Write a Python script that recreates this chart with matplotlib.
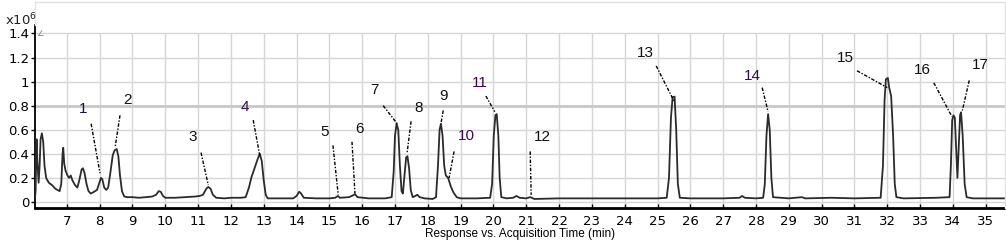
import matplotlib.pyplot as plt
from matplotlib.lines import Line2D

# chromatogram trace (time in min, response in x10^6)
time = [6.03, 6.05, 6.07, 6.08, 6.10, 6.14, 6.17, 6.20, 6.24, 6.28, 6.32, 6.37, 6.45, 6.55, 6.65, 6.78,
        6.83, 6.87, 6.89, 6.92, 6.96, 7.02, 7.07, 7.12, 7.17, 7.25, 7.32, 7.38, 7.45, 7.49, 7.54, 7.60,
        7.66, 7.73, 7.80, 7.92, 7.98, 8.04, 8.08, 8.14, 8.20, 8.26, 8.33, 8.40, 8.46, 8.52, 8.57, 8.62,
        8.68, 8.75, 8.85, 9.0, 9.2, 9.4, 9.6, 9.72, 9.80, 9.86, 9.93, 10.0, 10.3, 10.6, 10.9, 11.05,
        11.15, 11.25, 11.31, 11.38, 11.45, 11.55, 11.8, 12.0, 12.3, 12.45, 12.55, 12.62, 12.72, 12.82,
        12.88, 12.94, 13.0, 13.06, 13.12, 13.5, 13.9, 14.0, 14.08, 14.14, 14.22, 14.6, 15.0, 15.18,
        15.26, 15.32, 15.6, 15.72, 15.78, 15.86, 16.2, 16.7, 16.9, 16.96, 17.0, 17.05, 17.1, 17.15,
        17.2, 17.24, 17.29, 17.34, 17.38, 17.43, 17.48, 17.54, 17.62, 17.68, 17.75, 17.9, 18.15, 18.25,
        18.31, 18.36, 18.40, 18.45, 18.50, 18.55, 18.62, 18.70, 18.78, 18.88, 19.0, 19.5, 19.9, 19.96,
        20.01, 20.06, 20.10, 20.15, 20.19, 20.24, 20.4, 20.6, 20.7, 20.8, 21.0, 21.12, 21.25, 22.0,
        23.0, 24.0, 25.0, 25.28, 25.35, 25.41, 25.46, 25.52, 25.57, 25.62, 25.68, 26.0, 27.0, 27.5,
        27.58, 27.66, 28.0, 28.22, 28.27, 28.32, 28.37, 28.42, 28.47, 28.52, 29.0, 29.4, 29.5, 30.3,
        31.0, 31.8, 31.87, 31.92, 31.96, 32.02, 32.06, 32.12, 32.18, 32.23, 32.28, 32.5, 33.5, 33.9,
        33.94, 33.98, 34.02, 34.06, 34.10, 34.14, 34.18, 34.22, 34.25, 34.30, 34.36, 34.42, 34.6,
        35.0, 35.6]
response = [0.03, 0.10, 0.45, 0.52, 0.35, 0.16, 0.30, 0.52, 0.57, 0.50, 0.30, 0.20, 0.16, 0.14, 0.11, 0.09,
            0.15, 0.40, 0.45, 0.32, 0.26, 0.22, 0.20, 0.22, 0.18, 0.14, 0.12, 0.18, 0.27, 0.28, 0.24, 0.15,
            0.09, 0.07, 0.08, 0.10, 0.15, 0.20, 0.19, 0.12, 0.10, 0.12, 0.25, 0.39, 0.43, 0.44, 0.38, 0.22,
            0.09, 0.045, 0.04, 0.04, 0.035, 0.04, 0.045, 0.06, 0.09, 0.085, 0.05, 0.035, 0.035, 0.04, 0.045, 0.05,
            0.06, 0.11, 0.125, 0.11, 0.06, 0.035, 0.03, 0.035, 0.035, 0.04, 0.12, 0.20, 0.28, 0.36,
            0.40, 0.34, 0.18, 0.06, 0.03, 0.03, 0.03, 0.05, 0.085, 0.07, 0.035, 0.03, 0.03, 0.035,
            0.05, 0.035, 0.04, 0.055, 0.065, 0.04, 0.03, 0.03, 0.04, 0.25, 0.55, 0.65, 0.60, 0.30,
            0.09, 0.07, 0.22, 0.37, 0.38, 0.28, 0.10, 0.04, 0.05, 0.06, 0.04, 0.03, 0.025, 0.04,
            0.30, 0.60, 0.65, 0.55, 0.30, 0.22, 0.20, 0.13, 0.08, 0.04, 0.03, 0.03, 0.035, 0.15,
            0.55, 0.72, 0.73, 0.55, 0.20, 0.04, 0.03, 0.035, 0.05, 0.035, 0.03, 0.04, 0.025, 0.03,
            0.03, 0.03, 0.03, 0.035, 0.20, 0.70, 0.87, 0.875, 0.60, 0.15, 0.035, 0.03, 0.03, 0.035,
            0.05, 0.035, 0.03, 0.035, 0.15, 0.55, 0.73, 0.60, 0.20, 0.04, 0.03, 0.04, 0.03, 0.035,
            0.03, 0.035, 0.30, 0.85, 1.02, 1.03, 0.95, 0.88, 0.55, 0.15, 0.04, 0.03, 0.035, 0.04,
            0.30, 0.68, 0.72, 0.70, 0.45, 0.20, 0.45, 0.72, 0.745, 0.55, 0.15, 0.04, 0.03,
            0.03, 0.03]

# peak labels and their leader lines
peak_labels = ['1', '2', '3', '4', '5', '6', '7', '8', '9', '10', '11', '12', '13', '14', '15', '16', '17']
label_x = [7.50, 8.84, 10.85, 12.43, 14.84, 15.91, 16.37, 17.71, 18.47, 19.17, 19.59, 21.48, 24.62, 27.88, 30.72, 33.06, 34.83]
label_y = [0.77, 0.85, 0.54, 0.79, 0.58, 0.61, 0.93, 0.78, 0.88, 0.55, 0.99, 0.54, 1.24, 1.05, 1.20, 1.10, 1.14]
lead_x = [7.74, 8.62, 11.09, 12.68, 15.11, 15.69, 16.64, 17.49, 18.47, 18.80, 19.77, 21.12, 24.96, 28.19, 31.08, 33.42, 34.50]
lead_y = [0.65, 0.72, 0.41, 0.68, 0.47, 0.50, 0.80, 0.67, 0.76, 0.42, 0.88, 0.42, 1.13, 0.95, 1.09, 0.99, 1.01]
peak_x = [8.01, 8.47, 11.31, 12.89, 15.27, 15.78, 17.07, 17.37, 18.40, 18.65, 20.04, 21.15, 25.50, 28.37, 32.00, 33.97, 34.29]
peak_y = [0.24, 0.45, 0.14, 0.37, 0.06, 0.07, 0.65, 0.41, 0.65, 0.20, 0.75, 0.06, 0.84, 0.75, 0.95, 0.71, 0.76]
label_colors = ['#1a1040', '#111111', '#111111', '#3a0a55', '#111111', '#111111', '#111111', '#111111', '#111111',
                '#3a0a55', '#3a0a55', '#111111', '#111111', '#3a0a55', '#111111', '#111111', '#111111']

x_ticks = list(range(7, 36))
y_ticks = [0, 0.2, 0.4, 0.6, 0.8, 1.0, 1.2, 1.4]
y_ticklabels = ['0', '0.2', '0.4', '0.6', '0.8', '1', '1.2', '1.4']


def main():
    fig = plt.figure(figsize=(10.06, 2.48), dpi=100)
    ax = fig.add_axes([35 / 1006, 40 / 248, 971 / 1006, 183 / 248])
    ax.set_xlim(6.03, 35.62)
    ax.set_ylim(-0.05, 1.47)

    # light frame above the plot area (top and left edges only)
    fig.add_artist(Line2D([35 / 1006, 1005 / 1006, 1005 / 1006], [246 / 248, 246 / 248, 40 / 248],
                          transform=fig.transFigure, color='#e2e2e2', lw=1))
    fig.add_artist(Line2D([35 / 1006, 35 / 1006], [223 / 248, 246 / 248],
                          transform=fig.transFigure, color='#e2e2e2', lw=1))

    # grid lines stop at the 1.4 line
    ax.vlines(x_ticks, -0.05, 1.4, color='#d6d6d6', lw=1, zorder=0)
    for yv in y_ticks:
        ax.axhline(yv, color='#c8c8c8' if yv == 0.8 else '#d6d6d6', lw=2 if yv == 0.8 else 1, zorder=0)

    ax.plot(time, response, color='#2b2b2b', lw=1.3, zorder=3)

    for i in range(len(peak_labels)):
        ax.plot([lead_x[i], peak_x[i]], [lead_y[i], peak_y[i]], color='black', lw=1,
                linestyle=(0, (2.5, 1.2, 1, 1.2)), zorder=4)
        ax.text(label_x[i], label_y[i], peak_labels[i], ha='center', va='center', fontsize=11,
                color=label_colors[i], family='Liberation Sans')

    for s in ['top', 'right']:
        ax.spines[s].set_visible(False)
    ax.spines['left'].set_linewidth(1.3)
    ax.spines['bottom'].set_linewidth(2)
    ax.set_xticks(x_ticks)
    ax.set_yticks(y_ticks)
    ax.set_yticklabels(y_ticklabels)
    ax.tick_params(axis='x', direction='in', length=3, width=1, labelsize=9.5, pad=5)
    ax.tick_params(axis='y', direction='out', length=3, width=1, labelsize=9.5, pad=1)
    ax.set_xlabel('Response vs. Acquisition Time (min)', fontsize=8.5, family='Liberation Sans', labelpad=0)
    ax.xaxis.set_label_coords(0.5, -0.11)

    fig.text(5 / 1006, 1 - 20 / 248, r'x10$^6$', fontsize=9.5, va='center', ha='left', color='#222222')
    ax.text(6.08, 1.4, '\u2220', fontsize=6, color='#8080a0', va='center', ha='left')

    fig.savefig('out.png', dpi=100)


if __name__ == '__main__':
    main()
